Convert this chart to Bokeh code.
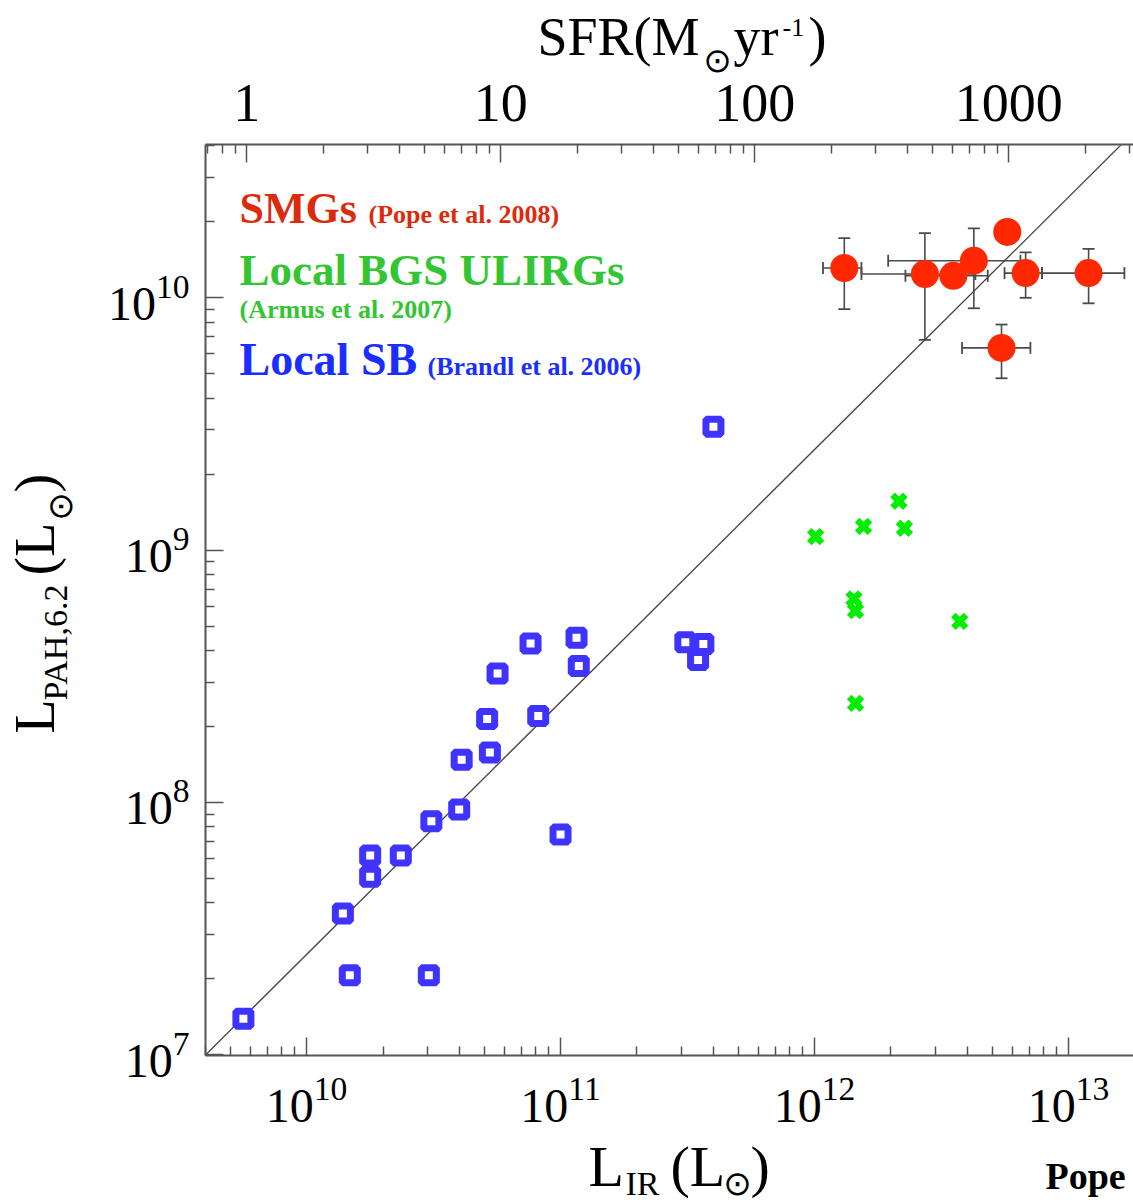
import math
from bokeh.plotting import figure
from bokeh.models import (ColumnDataSource, Range1d, LogScale, LogAxis, FixedTicker,
                          PrintfTickFormatter, Whisker, TeeHead)
from bokeh.core.properties import value
from bokeh.embed import file_html
from bokeh.resources import INLINE

# ---------------- data ----------------
# Local starbursts (Brandl et al. 2006)
SB_LIR = [7.62e10, 1.156e11, 5.65e10, 1.18e11, 3.10e11, 3.65e11, 3.48e11, 5.14e10,
          8.17e10, 4.08e10, 5.27e10, 3.99e10, 3.10e10, 2.35e10, 1.78e10, 1.78e10,
          1.00e11, 4.00e11, 1.39e10, 1.48e10, 3.03e10, 5.64e9]
SB_LPAH = [4.26e8, 4.49e8, 3.24e8, 3.47e8, 4.31e8, 4.24e8, 3.67e8, 2.14e8,
           2.20e8, 1.476e8, 1.578e8, 9.38e7, 8.43e7, 6.17e7, 6.17e7, 5.08e7,
           7.46e7, 3.08e9, 3.63e7, 2.07e7, 2.07e7, 1.39e7]

# Local BGS ULIRGs (Armus et al. 2007)
ULIRG_LIR = [2.15e12, 1.56e12, 2.26e12, 1.01e12, 1.43e12, 1.45e12, 3.73e12, 1.45e12]
ULIRG_LPAH = [1.56e9, 1.24e9, 1.22e9, 1.13e9, 6.41e8, 5.75e8, 5.22e8, 2.47e8]

# SMGs (Pope et al. 2008)
SMG_LIR = [1.31e12, 2.72e12, 3.52e12, 4.24e12, 5.74e12, 6.78e12, 1.20e13, 5.45e12]
SMG_LPAH = [1.31e10, 1.24e10, 1.22e10, 1.40e10, 1.82e10, 1.25e10, 1.25e10, 6.32e9]
SMG_LIR_LO = [1.08e12, 1.53e12, 2.28e12, 1.95e12, None, 5.60e12, 7.87e12, 3.81e12]
SMG_LIR_HI = [1.53e12, 4.30e12, 4.81e12, 6.47e12, None, 7.87e12, 1.66e13, 7.08e12]
SMG_LPAH_LO = [9.0e9, 6.8e9, None, 9.07e9, None, 9.98e9, 9.49e9, 4.79e9]
SMG_LPAH_HI = [1.72e10, 1.80e10, None, 1.88e10, None, 1.51e10, 1.56e10, 7.82e9]

# relation line L_PAH = ratio * L_IR, and SFR conversion
PAH_IR_RATIO = 2.5e-3
SFR_PER_LIR = 1.72e-10

# axes
X_START, X_END = 4.0e9, 1.803e13
Y_START, Y_END = 9.95e6, 4.04e10
L_IR_TICKS = [1e10, 1e11, 1e12, 1e13]
L_PAH_TICKS = [1e7, 1e8, 1e9, 1e10]
SFR_TICKS = [1, 10, 100, 1000]


def minors(lo_exp, hi_exp):
    return [k * 10.0 ** n for n in range(lo_exp, hi_exp + 1) for k in range(2, 10)]


# ---------------- figure ----------------
W, H = 1133, 1202
MB_LEFT, MB_TOP, MB_BOTTOM = 205, 144, 147
FRAME_LEFT = MB_LEFT
FRAME_BOTTOM = H - MB_BOTTOM

p = figure(width=W, height=H, x_axis_type="log", y_axis_type="log",
           x_range=Range1d(X_START, X_END), y_range=Range1d(Y_START, Y_END),
           output_backend="svg", toolbar_location=None,
           min_border_left=MB_LEFT, min_border_right=0,
           min_border_top=MB_TOP, min_border_bottom=MB_BOTTOM)
p.grid.visible = False
p.outline_line_color = None
p.background_fill_color = "white"
p.border_fill_color = "white"

AX_COLOR = "#555555"


def style_axis(ax, size):
    ax.axis_line_color = AX_COLOR
    ax.axis_line_width = 2
    ax.major_tick_line_color = AX_COLOR
    ax.minor_tick_line_color = AX_COLOR
    ax.major_tick_line_width = 1.5
    ax.minor_tick_line_width = 1.5
    ax.major_tick_in = 18
    ax.major_tick_out = 0
    ax.minor_tick_in = 9
    ax.minor_tick_out = 0
    ax.major_label_text_font = "Liberation Serif"
    ax.major_label_text_font_size = size
    ax.major_label_text_color = "black"


xa = p.xaxis[0]
xa.ticker = FixedTicker(ticks=L_IR_TICKS, minor_ticks=minors(9, 13))
style_axis(xa, "48px")
xa.major_label_standoff = 22

ya = p.yaxis[0]
ya.ticker = FixedTicker(ticks=L_PAH_TICKS, minor_ticks=minors(6, 10))
style_axis(ya, "48px")
ya.major_label_standoff = 16

p.extra_x_ranges = {"sfr": Range1d(X_START * SFR_PER_LIR, X_END * SFR_PER_LIR)}
p.extra_x_scales = {"sfr": LogScale()}
top = LogAxis(x_range_name="sfr",
              ticker=FixedTicker(ticks=SFR_TICKS, minor_ticks=minors(-1, 3)),
              formatter=PrintfTickFormatter(format="%d"))
style_axis(top, "54px")
top.major_label_standoff = 24
p.add_layout(top, "above")

# ---------------- relation line ----------------
p.line(x=[X_START, X_END], y=[PAH_IR_RATIO * X_START, PAH_IR_RATIO * X_END],
       line_color="#444444", line_width=1.3)

# ---------------- error bars ----------------
ERR_COLOR = "#4a4a4a"
xi = [i for i in range(len(SMG_LIR)) if SMG_LIR_LO[i] is not None]
yi = [i for i in range(len(SMG_LIR)) if SMG_LPAH_LO[i] is not None]
src_xerr = ColumnDataSource(dict(base=[SMG_LPAH[i] for i in xi],
                                 lo=[SMG_LIR_LO[i] for i in xi],
                                 hi=[SMG_LIR_HI[i] for i in xi]))
src_yerr = ColumnDataSource(dict(base=[SMG_LIR[i] for i in yi],
                                 lo=[SMG_LPAH_LO[i] for i in yi],
                                 hi=[SMG_LPAH_HI[i] for i in yi]))


def head():
    return TeeHead(size=12, line_color=ERR_COLOR, line_width=1.8)


for src, dim in ((src_xerr, "width"), (src_yerr, "height")):
    w = Whisker(source=src, base="base", lower="lo", upper="hi", dimension=dim,
                line_color=ERR_COLOR, line_width=1.6, level="underlay",
                upper_head=head(), lower_head=head())
    p.add_layout(w)

# ---------------- points ----------------
p.scatter(x=SB_LIR, y=SB_LPAH, marker="square", size=15, line_width=7,
          line_color="#3f33ff", fill_color="white")
p.scatter(x=ULIRG_LIR, y=ULIRG_LPAH, marker="x", size=18, line_width=6.5,
          line_color="#00ee00")
p.scatter(x=SMG_LIR, y=SMG_LPAH, marker="circle", size=28,
          fill_color="#ff2800", line_color=None)


# ---------------- texts (page-pixel placement relative to frame corner) ----------------
MID = 0.37  # distance from the em-middle to the alphabetic baseline, in em


def lab(text, px, py, size, color="black", bold=False, font="Liberation Serif",
        angle=0.0, align="left", centred=False):
    # (px, py): baseline start point, or glyph centre if centred
    if not centred:
        if angle:
            px -= MID * size
        else:
            py -= MID * size
    p.text(x=[X_START], y=[Y_START], text=[text],
           x_offset=px - FRAME_LEFT, y_offset=py - FRAME_BOTTOM,
           text_font=value(font), text_font_size=f"{size}px", text_color=color,
           text_font_style="bold" if bold else "normal",
           angle=angle, text_align=align, text_baseline="middle", level="overlay")


RED_T, GREEN_T, BLUE_T = "#dc2a0c", "#33c633", "#1a2eff"
lab("SMGs", 239, 224, 44, RED_T, bold=True)
lab("(Pope et al. 2008)", 368, 224, 26, RED_T, bold=True)
lab("Local BGS ULIRGs", 239, 286, 45, GREEN_T, bold=True)
lab("(Armus et al. 2007)", 239, 319, 26, GREEN_T, bold=True)
lab("Local SB", 239, 376, 46, BLUE_T, bold=True)
lab("(Brandl et al. 2006)", 427, 376, 26, BLUE_T, bold=True)

# top axis title: SFR(M_sun yr^-1)
lab("SFR(M", 537, 56, 54)
lab("\u2299", 717, 59, 34, font="DejaVu Sans", align="center", centred=True)
lab("yr", 733, 56, 54)
lab("-1", 782, 37, 26)
lab(")", 808, 56, 54)

# bottom axis title: L_IR (L_sun)
lab("L", 588, 1187, 58)
lab("IR", 625, 1196, 34)
lab("(L", 670, 1187, 58)
lab("\u2299", 737, 1182, 34, font="DejaVu Sans", align="center", centred=True)
lab(")", 750, 1187, 58)

# left axis title: L_PAH,6.2 (L_sun), rotated
R = math.pi / 2
lab("L", 55, 733, 56, angle=R)
lab("PAH,6.2", 68, 700, 34, angle=R)
lab("(L", 55, 575, 56, angle=R)
lab("\u2299", 59, 506, 34, font="DejaVu Sans", angle=R, align="center", centred=True)
lab(")", 55, 492, 56, angle=R)

# fragment of a slide caption at the bottom right
lab("Pope", 1045, 1190, 38, bold=True)

open("out.html", "w").write(file_html(p, INLINE))
